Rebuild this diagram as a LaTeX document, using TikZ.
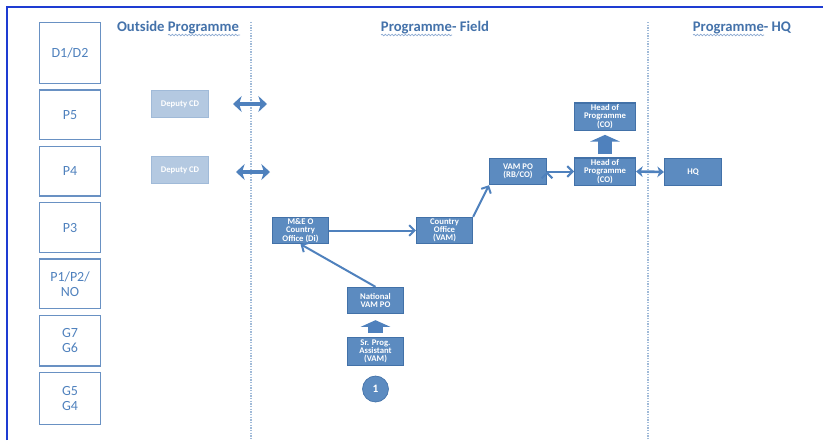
\documentclass[tikz,border=0pt]{standalone}
\usepackage{fontspec}
\setmainfont{Carlito}
\usetikzlibrary{arrows.meta,positioning,decorations.pathmorphing}

\definecolor{frameblue}{RGB}{30,60,210}
\definecolor{gradeline}{RGB}{105,145,195}
\definecolor{gradetext}{RGB}{79,129,189}
\definecolor{headtext}{RGB}{68,114,170}
\definecolor{jobfill}{RGB}{92,139,192}
\definecolor{jobline}{RGB}{66,113,168}
\definecolor{depfill}{RGB}{180,201,225}
\definecolor{depline}{RGB}{160,186,216}
\definecolor{arrowcol}{RGB}{79,129,189}
\definecolor{sepline}{RGB}{160,186,216}
\definecolor{squigcol}{RGB}{140,170,210}

\begin{document}
\begin{tikzpicture}[x=0.75pt,y=-0.75pt,
    grade/.style={draw=gradeline, line width=1pt, text=gradetext, align=center,
      minimum width=45.5pt, minimum height=37.25pt,
      font=\fontsize{10.5}{11.25}\selectfont},
    header/.style={text=headtext, font=\fontsize{11}{12}\selectfont\bfseries},
    job/.style={draw=jobline, line width=1pt, fill=jobfill, text=white, align=center,
      minimum width=42pt, minimum height=19.5pt, inner sep=0.5pt,
      font=\fontsize{6.5}{5.8}\selectfont\bfseries},
    headjob/.style={job, minimum width=45.5pt, minimum height=20.5pt},
    deputy/.style={job, draw=depline, fill=depfill},
    link/.style={draw=arrowcol, line width=1.5pt, -{Straight Barb[length=4pt,width=8pt]}},
    biarrow/.style={draw=arrowcol, line width=3pt,
      {Stealth[length=6.5pt,width=12pt,inset=2pt]}-{Stealth[length=6.5pt,width=12pt,inset=2pt]}},
    block/.style={draw=arrowcol, line width=11pt, -{Triangle[length=5pt,width=22pt]}},
    sep/.style={draw=sepline, line width=1pt, dash pattern=on 1pt off 1pt},
    squig/.style={draw=squigcol, line width=0.5pt, decorate,
      decoration={snake, amplitude=0.6pt, segment length=2.5pt}}]

  \useasboundingbox (0,0) rectangle (823,440);
  \draw[frameblue, line width=1.5pt] (7,440) -- (7,7) -- (823,7);

  % grade column
  \node[grade, minimum height=45.5pt] (d12) at (70,53) {D1/D2};
  \node[grade] (p5) [below=4pt of d12] {P5};
  \node[grade] (p4) [below=4pt of p5] {P4};
  \node[grade] (p3) [below=4pt of p4] {P3};
  \node[grade] (p12) [below=4pt of p3] {P1/P2/\\NO};
  \node[grade, minimum height=38pt] (g76) [below=4pt of p12] {G7\\G6};
  \node[grade, minimum height=38.75pt] (g54) [below=4pt of g76] {G5\\G4};

  % headers
  \node[header] (hout) at (178,28) {Outside Programme};
  \node[header] (hfield) at (435,28) {Programme- Field};
  \node[header] (hhq) at (742,28) {Programme- HQ};
  \draw[squig] (168,35) -- (240,35);
  \draw[squig] (381,35) -- (452,35);
  \draw[squig] (693,35) -- (764,35);

  % separators
  \draw[sep] (251,22) -- (251,440);
  \draw[sep] (648,22) -- (648,440);

  % outside programme
  \node[deputy, minimum width=42.5pt, minimum height=20pt] (dep1) at (180,104) {Deputy CD};
  \node[deputy, minimum width=42.5pt, minimum height=20pt] (dep2) at (180,170) {Deputy CD};
  \coordinate (b1l) at (233,104);
  \coordinate (b1r) at (267,104);
  \coordinate (b2l) at (236,172);
  \coordinate (b2r) at (270,172);
  \draw[biarrow] (b1l) -- (b1r);
  \draw[biarrow] (b2l) -- (b2r);

  % field
  \node[job] (meo) at (300.5,230.5) {M\&E O\\Country\\Office (Di)};
  \node[job] (cov) at (444.5,230.5) {Country\\Office\\(VAM)};
  \node[job] (nat) at (375.5,300.5) {National\\VAM PO};
  \node[job, minimum height=20.75pt] (sr) at (375.5,351.5) {Sr. Prog.\\Assistant\\(VAM)};
  \node[circle, fill=jobfill, draw=jobline, line width=0.5pt, minimum size=19.5pt, inner sep=0pt,
    text=white, font=\fontsize{8.5}{9}\selectfont\bfseries] (one) at (375.5,389) {1};
  \node[job, minimum width=42.5pt] (vampo) at (518,171.5) {VAM PO\\(RB/CO)};
  \node[headjob] (hop) at (605,171.5) {Head of\\Programme\\(CO)};
  \node[headjob] (hopup) at (605,116.5) {Head of\\Programme\\(CO)};

  % HQ
  \node[job, minimum width=42.5pt, minimum height=20pt] (hq) at (693,172) {HQ};

  \draw[block, shorten <=3pt, shorten >=4.5pt] (sr.north) -- (nat.south);
  \draw[block, shorten <=2.25pt, shorten >=3pt] (hop.north) -- (hopup.south);
  \path[link]
    (nat.north) edge (meo.south)
    (meo.east) edge (cov.west)
    (cov.north east) edge (vampo.south west)
    (vampo.east) edge (hop.west)
    ;
  \draw[draw=arrowcol, line width=2pt,
    {Stealth[length=5pt,width=8pt,inset=1.5pt]}-{Stealth[length=5pt,width=8pt,inset=1.5pt]}]
    (hop.east) -- (hq.west);
\end{tikzpicture}
\end{document}
